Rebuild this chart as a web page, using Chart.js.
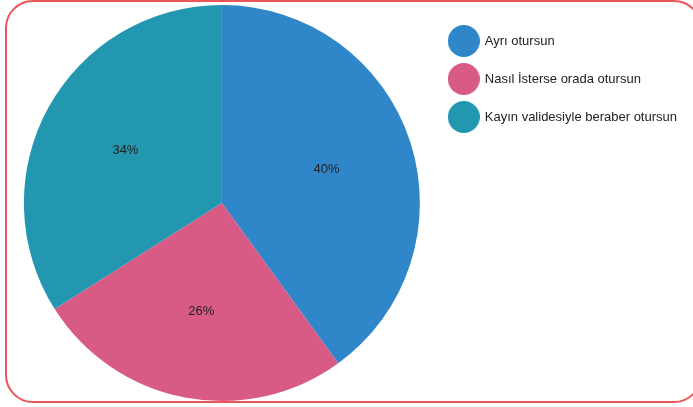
<!DOCTYPE html>
<html>
<head>
<meta charset="utf-8">
<script src="https://cdn.jsdelivr.net/npm/chart.js@4"></script>
<style>
  html, body { margin: 0; padding: 0; background: #fff; overflow: hidden; }
  .wrap { position: relative; width: 693px; height: 407px; overflow: hidden; }
  .frame {
    position: absolute; left: 5px; top: 0; width: 697px; height: 403px;
    box-sizing: border-box; border: 2px solid #ea5558; border-radius: 28px;
    pointer-events: none;
  }
  canvas { position: absolute; left: 0; top: 0; }
</style>
</head>
<body>
<div class="wrap">
  <canvas id="chart" width="693" height="407"></canvas>
  <div class="frame"></div>
</div>
<script>
/* Pie: where the bride's mother-in-law should sit */

const LABELS = ['Ayrı otursun', 'Nasıl İsterse orada otursun', 'Kayın validesiyle beraber otursun'];
const VALUES = [40, 26, 34];
const SLICE_COLORS = ['#2f86c9', '#d75b84', '#2497b0'];

const FONT = "'Liberation Sans', Arial, sans-serif";

// Round legend marker, bigger than Chart.js lets a point style be.
function dot(color, size) {
  const c = document.createElement('canvas');
  c.width = size; c.height = size;
  const ctx = c.getContext('2d');
  ctx.fillStyle = color;
  ctx.beginPath();
  ctx.arc(size / 2, size / 2, size / 2, 0, Math.PI * 2);
  ctx.fill();
  return c;
}

// Percent text inside every slice.
const sliceLabels = {
  id: 'sliceLabels',
  afterDatasetsDraw(chart) {
    const { ctx } = chart;
    const meta = chart.getDatasetMeta(0);
    ctx.save();
    ctx.font = '13px ' + FONT;
    ctx.fillStyle = '#222';
    ctx.textAlign = 'center';
    ctx.textBaseline = 'middle';
    meta.data.forEach((arc, i) => {
      const p = arc.getProps(['x', 'y', 'startAngle', 'endAngle', 'outerRadius'], true);
      const mid = (p.startAngle + p.endAngle) / 2;
      const r = p.outerRadius * 0.556;
      ctx.fillText(VALUES[i] + '%', p.x + Math.cos(mid) * r, p.y + Math.sin(mid) * r);
    });
    ctx.restore();
  },
};

new Chart(document.getElementById('chart'), {
  type: 'pie',
  data: {
    labels: LABELS,
    datasets: [{
      data: VALUES,
      backgroundColor: SLICE_COLORS,
      borderWidth: 0,
    }],
  },
  options: {
    responsive: false,
    animation: false,
    layout: { padding: { left: 19.5, right: 6, top: 5, bottom: 6 } },
    plugins: {
      tooltip: { enabled: false },
      legend: {
        position: 'right',
        align: 'start',
        title: { display: true, text: '', padding: 0, font: { size: 3.75 } },
        labels: {
          usePointStyle: true,
          pointStyleWidth: 29,
          padding: 25,
          color: '#222',
          font: { family: FONT, size: 13 },
          generateLabels(chart) {
            const ds = chart.data.datasets[0];
            return chart.data.labels.map((text, i) => ({
              text,
              fillStyle: ds.backgroundColor[i],
              strokeStyle: ds.backgroundColor[i],
              lineWidth: 0,
              pointStyle: dot(ds.backgroundColor[i], 32),
              fontColor: '#222',
              hidden: false,
              index: i,
            }));
          },
        },
      },
    },
  },
  plugins: [sliceLabels],
});
</script>
</body>
</html>
